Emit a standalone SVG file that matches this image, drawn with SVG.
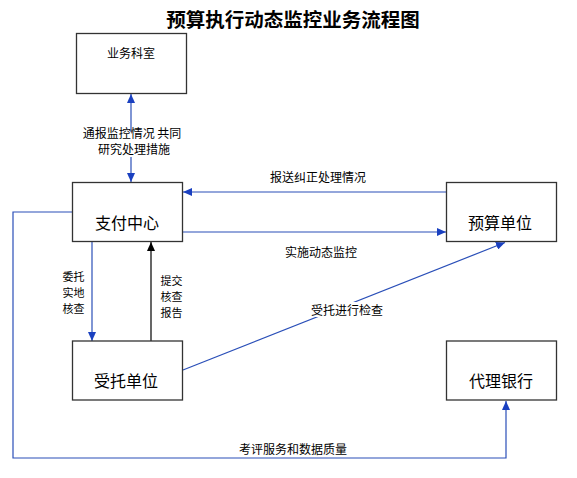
<svg xmlns="http://www.w3.org/2000/svg" width="577" height="478" viewBox="0 0 577 478">
<style>
.box{fill:#fff;stroke:#333;stroke-width:1.3}
.bt{font-family:"Noto Sans CJK SC","Noto Sans",sans-serif;font-size:16px;fill:#000;text-anchor:middle}
.lb{font-family:"Noto Sans CJK SC","Noto Sans",sans-serif;font-size:12px;fill:#000;text-anchor:middle}
.sl{font-family:"Noto Sans CJK SC","Noto Sans",sans-serif;font-size:11px;fill:#000;text-anchor:middle}
.bl{fill:none;stroke:#2a4fb8;stroke-width:1.2}
.bk{fill:none;stroke:#000;stroke-width:1.2}
.title{font-family:"Noto Sans CJK SC","Noto Sans",sans-serif;font-size:19.5px;font-weight:bold;fill:#000;text-anchor:middle}
</style>
<defs>
<marker id="ab" markerUnits="userSpaceOnUse" markerWidth="10" markerHeight="8" refX="9" refY="4" orient="auto"><path d="M0,0 L9,4 L0,8 z" fill="#1a40c0"/></marker>
<marker id="ak" markerUnits="userSpaceOnUse" markerWidth="10" markerHeight="8" refX="9" refY="4" orient="auto"><path d="M0,0 L9,4 L0,8 z" fill="#000"/></marker>
</defs>
<rect width="577" height="478" fill="#fff"/>
<text class="title" x="293" y="27">预算执行动态监控业务流程图</text>
<g id="connectors">
<path class="bl" d="M131,132 L131,94" marker-end="url(#ab)"/>
<path class="bl" d="M131,157 L131,182" marker-end="url(#ab)"/>
<path class="bl" d="M446,192 L183,192" marker-end="url(#ab)"/>
<path class="bl" d="M183,232 L446,232" marker-end="url(#ab)"/>
<path class="bl" d="M92,242 L92,341" marker-end="url(#ab)"/>
<path class="bk" d="M151,341 L151,242" marker-end="url(#ak)"/>
<path class="bl" d="M183,370 L505,242.5" marker-end="url(#ab)"/>
<path class="bl" d="M72.5,212 L13,212 L13,458 L506,458 L506,401" marker-end="url(#ab)"/>
<text class="lb" x="132" y="138">通报监控情况 共同<tspan x="134" dy="16">研究处理措施</tspan></text>
<text class="lb" x="318" y="182">报送纠正处理情况</text>
<text class="lb" x="321" y="257">实施动态监控</text>
<text class="sl" x="73.5" y="281">委托<tspan x="73.5" dy="16">实地</tspan><tspan x="73.5" dy="16">核查</tspan></text>
<text class="sl" x="171.5" y="285">提交<tspan x="171.5" dy="16">核查</tspan><tspan x="171.5" dy="16">报告</tspan></text>
<rect x="309" y="302" width="76" height="15" fill="#fff"/>
<text class="lb" x="347" y="315">受托进行检查</text>
<text class="lb" x="293" y="454">考评服务和数据质量</text>
</g>
<g id="yewu"><rect class="box" x="76.5" y="33.5" width="110" height="60"/><text class="lb" x="131" y="58">业务科室</text></g>
<g id="zhifu"><rect class="box" x="72.5" y="182.5" width="110" height="59"/><text class="bt" x="127" y="229">支付中心</text></g>
<g id="yusuan"><rect class="box" x="446.5" y="182.5" width="110" height="59"/><text class="bt" x="500" y="229">预算单位</text></g>
<g id="shoutuo"><rect class="box" x="72.5" y="341" width="110" height="59"/><text class="bt" x="126" y="387">受托单位</text></g>
<g id="daili"><rect class="box" x="446.5" y="341" width="110" height="59"/><text class="bt" x="501" y="387">代理银行</text></g>
</svg>
